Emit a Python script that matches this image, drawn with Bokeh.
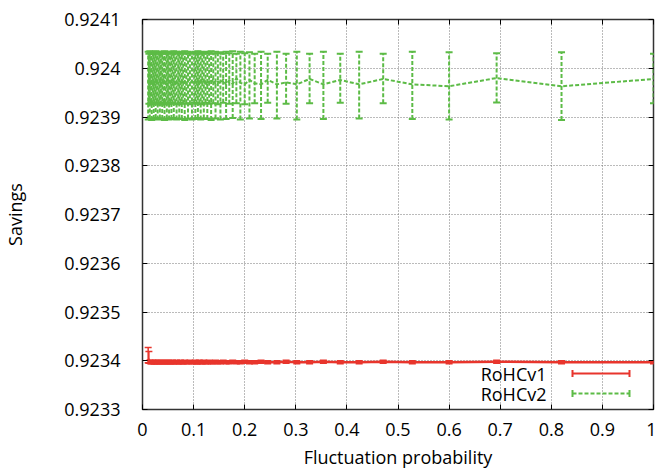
from bokeh.plotting import figure
from bokeh.models import (ColumnDataSource, Whisker, TeeHead, Range1d, FixedTicker,
                          CustomJSTickFormatter, LinearAxis, Label, Arrow)
from bokeh.embed import file_html
from bokeh.resources import INLINE

# ---------------- data ----------------
fluct_prob = [
    0.0111, 0.0125, 0.0143, 0.0161, 0.018, 0.02, 0.022, 0.0237,
    0.0258, 0.0277, 0.0297, 0.0318, 0.034, 0.0361, 0.0386, 0.0407,
    0.0431, 0.0452, 0.0476, 0.0497, 0.052, 0.0545, 0.0566, 0.0588,
    0.0612, 0.0638, 0.0667, 0.0698, 0.072, 0.0744, 0.0769, 0.0796,
    0.0826, 0.0857, 0.0891, 0.0928, 0.0968, 0.1011, 0.1034, 0.1059,
    0.1084, 0.1111, 0.1139, 0.1169, 0.12, 0.1233, 0.1268, 0.1304,
    0.1343, 0.1385, 0.1429, 0.1475, 0.1525, 0.1579, 0.1636, 0.1698,
    0.1765, 0.1837, 0.1915, 0.2, 0.2093,
    0.2195, 0.232, 0.245, 0.263, 0.281, 0.302, 0.327, 0.354,
    0.387, 0.424, 0.471, 0.528, 0.6, 0.693, 0.82, 1.0,
]

rohcv2_mean = [
    0.923975, 0.923968, 0.923979, 0.923966, 0.923972, 0.923977, 0.923965, 0.923974,
    0.923969, 0.923978, 0.923967, 0.923973, 0.923976, 0.923965, 0.923971, 0.923979,
    0.923968, 0.923974, 0.923966, 0.923977, 0.923970, 0.923975, 0.923964, 0.923978,
    0.923969, 0.923973, 0.923967, 0.923979, 0.923971, 0.923966, 0.923976, 0.923968,
    0.923974, 0.923965, 0.923978, 0.923970, 0.923973, 0.923967, 0.923977, 0.923969,
    0.923975, 0.923966, 0.923979, 0.923971, 0.923968, 0.923976, 0.923965, 0.923974,
    0.923970, 0.923978, 0.923967, 0.923973, 0.923969, 0.923977, 0.923966, 0.923975,
    0.923968, 0.923979, 0.923970, 0.923967, 0.923976,
    0.923969, 0.923967, 0.923976, 0.923967, 0.923971, 0.923967, 0.923978, 0.923967,
    0.923976, 0.923967, 0.923978, 0.923967, 0.923963, 0.923980, 0.923963, 0.923978,
]

rohcv2_low = [
    0.923895, 0.923927, 0.923897, 0.923929, 0.923894, 0.923926, 0.923896, 0.923928,
    0.923898, 0.923930, 0.923895, 0.923927, 0.923897, 0.923925, 0.923896, 0.923929,
    0.923894, 0.923928, 0.923897, 0.923926, 0.923895, 0.923930, 0.923896, 0.923927,
    0.923898, 0.923928, 0.923895, 0.923926, 0.923897, 0.923929, 0.923896, 0.923927,
    0.923894, 0.923928, 0.923897, 0.923926, 0.923895, 0.923929, 0.923896, 0.923927,
    0.923898, 0.923928, 0.923895, 0.923926, 0.923897, 0.923929, 0.923896, 0.923927,
    0.923894, 0.923928, 0.923897, 0.923926, 0.923895, 0.923929, 0.923896, 0.923927,
    0.923898, 0.923928, 0.923895, 0.923926, 0.923897,
    0.923928, 0.923896, 0.923929, 0.923897, 0.923927, 0.923895, 0.923928, 0.923896,
    0.923929, 0.923897, 0.923928, 0.923896, 0.923895, 0.923930, 0.923894, 0.923928,
]

rohcv2_high = [
    0.924034, 0.924030, 0.924035, 0.924031, 0.924033, 0.924030, 0.924034, 0.924031,
    0.924035, 0.924030, 0.924034, 0.924031, 0.924033, 0.924030, 0.924034, 0.924031,
    0.924035, 0.924030, 0.924034, 0.924031, 0.924033, 0.924030, 0.924034, 0.924031,
    0.924035, 0.924030, 0.924034, 0.924031, 0.924033, 0.924030, 0.924034, 0.924031,
    0.924035, 0.924030, 0.924034, 0.924031, 0.924033, 0.924030, 0.924034, 0.924031,
    0.924035, 0.924030, 0.924034, 0.924031, 0.924033, 0.924030, 0.924034, 0.924031,
    0.924035, 0.924030, 0.924034, 0.924031, 0.924033, 0.924030, 0.924034, 0.924031,
    0.924035, 0.924030, 0.924034, 0.924031, 0.924033,
    0.924030, 0.924034, 0.924030, 0.924034, 0.924030, 0.924034, 0.924030, 0.924034,
    0.924030, 0.924034, 0.924030, 0.924034, 0.924033, 0.924031, 0.924033, 0.924030,
]

rohcv1_mean = [
    0.923404, 0.923400, 0.923398, 0.923397, 0.923397, 0.923398, 0.923397, 0.923397,
    0.923398, 0.923397, 0.923397, 0.923398, 0.923397, 0.923397, 0.923398, 0.923397,
    0.923397, 0.923398, 0.923397, 0.923397, 0.923398, 0.923397, 0.923397, 0.923398,
    0.923397, 0.923397, 0.923398, 0.923397, 0.923397, 0.923398, 0.923397, 0.923397,
    0.923398, 0.923397, 0.923397, 0.923398, 0.923397, 0.923397, 0.923398, 0.923397,
    0.923397, 0.923398, 0.923397, 0.923397, 0.923398, 0.923397, 0.923397, 0.923398,
    0.923397, 0.923397, 0.923398, 0.923397, 0.923397, 0.923398, 0.923397, 0.923397,
    0.923398, 0.923397, 0.923397, 0.923398, 0.923397,
    0.923397, 0.923398, 0.923397, 0.923397, 0.923398, 0.923397, 0.923397, 0.923398,
    0.923397, 0.923397, 0.923398, 0.923397, 0.923397, 0.923398, 0.923397, 0.923397,
]

rohcv1_low = [
    0.923396, 0.923395, 0.923395, 0.923394, 0.923394, 0.923395, 0.923394, 0.923394,
    0.923395, 0.923394, 0.923394, 0.923395, 0.923394, 0.923394, 0.923395, 0.923394,
    0.923394, 0.923395, 0.923394, 0.923394, 0.923395, 0.923394, 0.923394, 0.923395,
    0.923394, 0.923394, 0.923395, 0.923394, 0.923394, 0.923395, 0.923394, 0.923394,
    0.923395, 0.923394, 0.923394, 0.923395, 0.923394, 0.923394, 0.923395, 0.923394,
    0.923394, 0.923395, 0.923394, 0.923394, 0.923395, 0.923394, 0.923394, 0.923395,
    0.923394, 0.923394, 0.923395, 0.923394, 0.923394, 0.923395, 0.923394, 0.923394,
    0.923395, 0.923394, 0.923394, 0.923395, 0.923394,
    0.923394, 0.923395, 0.923394, 0.923394, 0.923395, 0.923394, 0.923394, 0.923395,
    0.923394, 0.923394, 0.923395, 0.923394, 0.923394, 0.923395, 0.923394, 0.923394,
]

rohcv1_high = [
    0.923427, 0.923419, 0.923401, 0.923400, 0.923400, 0.923401, 0.923400, 0.923400,
    0.923401, 0.923400, 0.923400, 0.923401, 0.923400, 0.923400, 0.923401, 0.923400,
    0.923400, 0.923401, 0.923400, 0.923400, 0.923401, 0.923400, 0.923400, 0.923401,
    0.923400, 0.923400, 0.923401, 0.923400, 0.923400, 0.923401, 0.923400, 0.923400,
    0.923401, 0.923400, 0.923400, 0.923401, 0.923400, 0.923400, 0.923401, 0.923400,
    0.923400, 0.923401, 0.923400, 0.923400, 0.923401, 0.923400, 0.923400, 0.923401,
    0.923400, 0.923400, 0.923401, 0.923400, 0.923400, 0.923401, 0.923400, 0.923400,
    0.923401, 0.923400, 0.923400, 0.923401, 0.923400,
    0.923400, 0.923401, 0.923400, 0.923400, 0.923401, 0.923400, 0.923400, 0.923401,
    0.923400, 0.923400, 0.923401, 0.923400, 0.923400, 0.923401, 0.923400, 0.923400,
]

x_ticks = [0, 0.1, 0.2, 0.3, 0.4, 0.5, 0.6, 0.7, 0.8, 0.9, 1]
y_ticks = [0.9233, 0.9234, 0.9235, 0.9236, 0.9237, 0.9238, 0.9239, 0.924, 0.9241]
series_names = ["RoHCv1", "RoHCv2"]
x_title = "Fluctuation probability"
y_title = "Savings"

# ---------------- styles ----------------
RED = "#e8352c"
GREEN = "#5cbb46"
FONT = "Open Sans"
FS = "18px"

src = ColumnDataSource(dict(
    x=fluct_prob,
    v1=rohcv1_mean, v1_lo=rohcv1_low, v1_hi=rohcv1_high,
    v2=rohcv2_mean, v2_lo=rohcv2_low, v2_hi=rohcv2_high,
))

p = figure(width=656, height=473,
           x_range=Range1d(x_ticks[0], x_ticks[-1]),
           y_range=Range1d(y_ticks[0], y_ticks[-1]),
           output_backend="svg", toolbar_location=None,
           min_border_left=142, min_border_right=3,
           min_border_top=19, min_border_bottom=64)
p.background_fill_color = "white"
p.border_fill_color = "white"
p.outline_line_color = "#333333"
p.outline_line_width = 1.5

fmt = CustomJSTickFormatter(code="return String(Number(tick.toFixed(6)));")

xa = p.xaxis[0]
ya = p.yaxis[0]
xa.ticker = FixedTicker(ticks=x_ticks)
ya.ticker = FixedTicker(ticks=y_ticks)
for ax in (xa, ya):
    ax.formatter = fmt
    ax.major_tick_in = 5
    ax.major_tick_out = 0
    ax.minor_tick_line_color = None
    ax.axis_line_color = None
    ax.major_tick_line_color = "black"
    ax.major_label_text_font = FONT
    ax.major_label_text_font_size = FS
    ax.major_label_text_color = "black"
    ax.axis_label_text_font = FONT
    ax.axis_label_text_font_size = FS
    ax.axis_label_text_font_style = "normal"
    ax.axis_label_text_color = "black"
xa.axis_label = x_title
ya.axis_label = y_title
xa.major_label_standoff = 13
xa.axis_label_standoff = 6
ya.major_label_standoff = 22
ya.axis_label_standoff = 34

# mirror ticks on top and right (no labels)
no_label = CustomJSTickFormatter(code="return '';")
top = LinearAxis(ticker=FixedTicker(ticks=x_ticks), formatter=no_label,
                 major_label_text_font_size="1px", major_label_text_color=None,
                 major_label_standoff=0, major_tick_in=5, major_tick_out=0,
                 minor_tick_line_color=None, axis_line_color=None,
                 major_tick_line_color="black")
right = LinearAxis(ticker=FixedTicker(ticks=y_ticks), formatter=no_label,
                   major_label_text_font_size="1px", major_label_text_color=None,
                   major_label_standoff=0, major_tick_in=5, major_tick_out=0,
                   minor_tick_line_color=None, axis_line_color=None,
                   major_tick_line_color="black")
p.add_layout(top, "above")
p.add_layout(right, "right")

for g in (p.xgrid[0], p.ygrid[0]):
    g.grid_line_color = "#777777"
    g.grid_line_width = 1
    g.grid_line_dash = "1 2"

# RoHCv1 (red)
p.line("x", "v1", source=src, line_color=RED, line_width=2.5)
p.add_layout(Whisker(source=src, base="x", upper="v1_hi", lower="v1_lo",
                     dimension="height", line_color=RED, line_width=1.5,
                     upper_head=TeeHead(size=7, line_color=RED, line_width=1.5),
                     lower_head=TeeHead(size=7, line_color=RED, line_width=1.5)))

# RoHCv2 (green dashed)
p.line("x", "v2", source=src, line_color=GREEN, line_width=2, line_dash="4 2")
p.add_layout(Whisker(source=src, base="x", upper="v2_hi", lower="v2_lo",
                     dimension="height", line_color=GREEN, line_width=2, line_dash="4 2",
                     upper_head=TeeHead(size=7, line_color=GREEN, line_width=2),
                     lower_head=TeeHead(size=7, line_color=GREEN, line_width=2)))

# legend (gnuplot style: text then sample)
for name, yy, col, dash, lw in ((series_names[0], 36, RED, "solid", 2),
                                (series_names[1], 16, GREEN, "4 2", 2)):
    p.add_layout(Label(x=404, y=yy, x_units="screen", y_units="screen", text=name,
                       text_align="right", text_baseline="middle",
                       text_font=FONT, text_font_size=FS, text_color="black"))
    p.add_layout(Arrow(x_start=430, y_start=yy, x_end=487, y_end=yy,
                       start_units="screen", end_units="screen",
                       line_color=col, line_width=lw, line_dash=dash,
                       start=TeeHead(size=7, line_color=col, line_width=lw),
                       end=TeeHead(size=7, line_color=col, line_width=lw)))

open("out.html", "w").write(file_html(p, INLINE))
